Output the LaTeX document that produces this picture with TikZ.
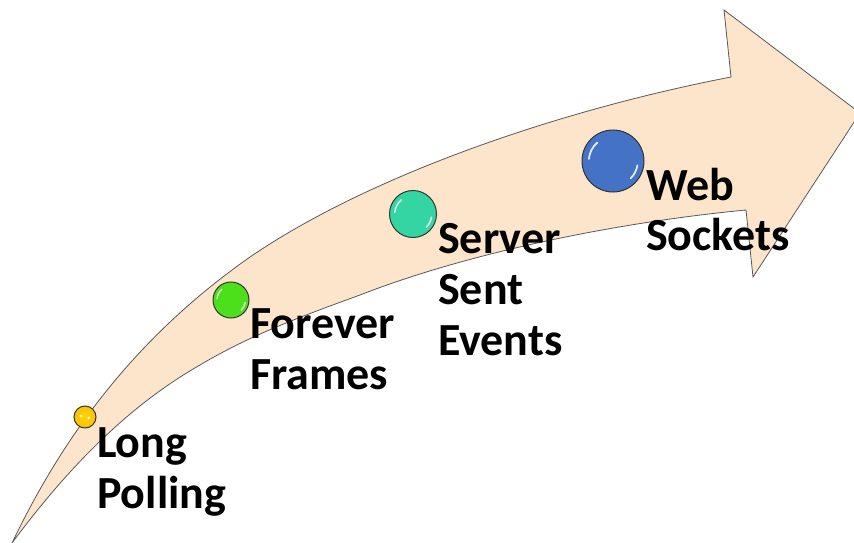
\documentclass[tikz,border=0pt]{standalone}
\usepackage{fontspec}
\setmainfont{Carlito}
\begin{document}
\begin{tikzpicture}[x=1pt,y=-1pt,
  lbl/.style={anchor=base west,inner sep=0pt,font=\fontsize{46}{51}\selectfont\bfseries,text=black},
  shine/.style={white,opacity=.85,line cap=round},
  ball/.style={circle,draw=black!80,line width=1pt,minimum size=#1*2pt,inner sep=0pt}]
\useasboundingbox (0,0) rectangle (854,543);
\definecolor{arrowfill}{HTML}{FDE5CB}
\definecolor{cYellow}{HTML}{FFC000}
\definecolor{cGreen}{HTML}{4CE01A}
\definecolor{cTeal}{HTML}{33D6A2}
\definecolor{cBlue}{HTML}{4472C4}
\begin{scope}
\clip (0,0) rectangle (854,543);
\draw[fill=arrowfill,draw=black!65,line width=.8pt,line join=miter]
  (12,543) .. controls (60,443) and (130,341) .. (250,257)
  .. controls (370,175) and (560,110) .. (731,77)
  -- (724,10) -- (860,113) -- (753,277) -- (746,210)
  .. controls (620,222) and (470,252) .. (360,295)
  .. controls (305,315) and (250,335) .. (200,365)
  .. controls (130,405) and (70,465) .. (12,543) -- cycle;
\end{scope}
\node[ball=11,inner color=cYellow!70!yellow,outer color=cYellow] (a) at (85,417) {};
\node[ball=18,fill=cGreen] (b) at (231,300) {};
\node[ball=23.5,fill=cTeal] (c) at (413,214) {};
\node[ball=31,fill=cBlue] (d) at (613,161) {};
\fill[white,opacity=.8] (81,416) circle (1.6pt) (89,418) circle (1.6pt);
\foreach \n/\r/\lw in {b/18/1.3,c/23.5/1.5,d/31/1.8}{
  \draw[shine,line width=\lw pt] ([shift={(185:\r*0.78)}]\n.center) arc[start angle=185,end angle=230,radius=\r*0.78];
  \draw[shine,line width=\lw pt] ([shift={(10:\r*0.8)}]\n.center) arc[start angle=10,end angle=45,radius=\r*0.8];
}
\node[lbl] (l1) at (97,457) {Long};
\node[lbl] (l2) at (97,508) {Polling};
\node[lbl] (l3) at (250,338) {Forever};
\node[lbl] (l4) at (250,389) {Frames};
\node[lbl] (l5) at (438,253) {Server};
\node[lbl] (l6) at (438,304) {Sent};
\node[lbl] (l7) at (438,355) {Events};
\node[lbl] (l8) at (646,200) {Web};
\node[lbl] (l9) at (646,250) {Sockets};
\end{tikzpicture}
\end{document}
